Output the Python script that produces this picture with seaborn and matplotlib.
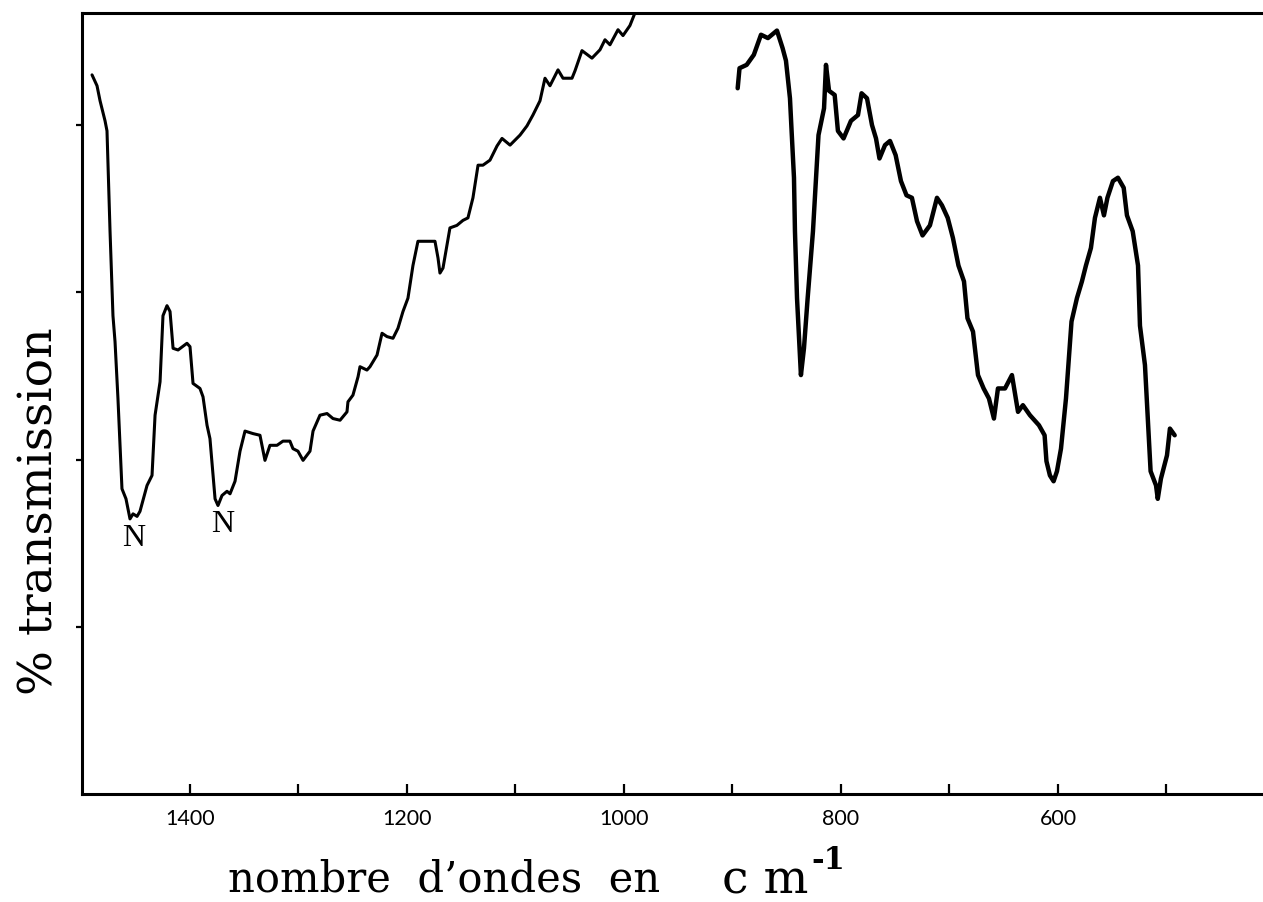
import matplotlib
matplotlib.use("Agg")
import matplotlib.pyplot as plt
import numpy as np
import pandas as pd
import seaborn as sns

# Infrared transmission spectrum, recorded in two runs (wavenumber in cm-1, % transmission)
wn_high = [1490.3, 1485.7, 1482.9, 1478.3, 1476.5, 1473.7, 1471.0, 1469.1, 1466.4, 1462.7,
           1459.0, 1455.3, 1452.5, 1448.8, 1446.1, 1439.6, 1435.0, 1432.2, 1427.6, 1424.9,
           1421.2, 1418.4, 1415.6, 1411.0, 1402.8, 1400.0, 1397.2, 1390.8, 1388.0, 1384.3,
           1381.6, 1376.9, 1374.2, 1370.5, 1365.9, 1363.1, 1358.5, 1353.9, 1349.3, 1341.9,
           1335.5, 1330.9, 1326.3, 1319.8, 1314.3, 1307.9, 1305.1, 1300.5, 1295.8, 1289.4,
           1286.6, 1280.2, 1273.7, 1268.2, 1261.7, 1255.3, 1254.4, 1249.8, 1245.1, 1243.3,
           1236.9, 1234.1, 1227.6, 1223.0, 1218.4, 1212.9, 1208.3, 1203.7, 1199.1, 1194.5,
           1189.9, 1181.5, 1174.2, 1171.4, 1169.6, 1166.8, 1160.4, 1154.0, 1148.4, 1143.8,
           1139.2, 1134.5, 1130.0, 1123.5, 1117.0, 1112.4, 1105.0, 1095.8, 1089.4, 1083.9,
           1077.4, 1072.8, 1068.2, 1060.8, 1056.2, 1047.9, 1045.1, 1038.7, 1029.5, 1022.1,
           1017.5, 1012.9, 1005.5, 1000.9, 994.5, 989.9]
t_high = [86.0, 84.7, 82.9, 80.5, 79.3, 67.3, 57.2, 54.1, 47.3, 36.5,
          35.3, 32.9, 33.5, 33.2, 33.8, 36.9, 38.1, 45.3, 49.3, 57.2,
          58.4, 57.7, 53.3, 53.1, 53.9, 53.5, 49.1, 48.5, 47.5, 44.1,
          42.5, 35.3, 34.5, 35.7, 36.2, 35.9, 37.4, 41.0, 43.4, 43.1,
          42.9, 39.9, 41.7, 41.7, 42.2, 42.2, 41.3, 41.0, 39.9, 41.0,
          43.4, 45.3, 45.5, 44.9, 44.7, 45.7, 46.9, 47.7, 49.9, 51.1,
          50.7, 51.1, 52.5, 55.1, 54.7, 54.5, 55.7, 57.7, 59.3, 63.2,
          66.1, 66.1, 66.1, 64.1, 62.3, 62.9, 67.7, 68.0, 68.6, 68.9,
          71.3, 75.2, 75.2, 75.8, 77.5, 78.4, 77.6, 78.8, 79.9, 81.2,
          82.9, 85.6, 84.7, 86.6, 85.6, 85.6, 86.5, 88.9, 88.0, 89.0,
          90.2, 89.6, 91.4, 90.7, 91.9, 93.4]

wn_low = [895.2, 893.5, 886.9, 880.3, 873.7, 867.3, 859.0, 853.8, 850.7, 847.0,
          845.5, 843.3, 842.4, 840.5, 836.9, 834.1, 830.7, 825.8, 820.7, 815.6,
          813.8, 811.0, 805.8, 802.8, 797.6, 790.8, 784.3, 781.0, 776.0, 771.4,
          767.7, 764.5, 759.4, 754.8, 749.6, 744.7, 739.6, 734.6, 729.9, 724.8,
          718.0, 711.5, 706.9, 701.6, 696.8, 691.7, 686.6, 683.4, 678.3, 673.7,
          668.5, 663.6, 659.0, 655.3, 648.8, 642.4, 636.8, 632.3, 625.8, 617.5,
          612.3, 610.6, 607.4, 604.0, 600.9, 597.2, 592.6, 587.5, 582.5, 577.9,
          574.2, 569.6, 565.9, 561.3, 557.6, 554.4, 549.3, 544.7, 539.4, 536.4,
          531.1, 526.2, 524.4, 519.8, 514.6, 509.6, 508.0, 505.1, 499.5, 496.8,
          492.4]
t_low = [84.4, 86.8, 87.2, 88.4, 90.8, 90.4, 91.3, 89.2, 87.7, 83.2,
         79.3, 73.7, 67.3, 59.3, 50.1, 53.3, 59.3, 67.3, 78.8, 82.0,
         87.2, 84.1, 83.6, 79.3, 78.4, 80.5, 81.2, 83.8, 83.2, 80.0,
         78.4, 76.0, 77.6, 78.1, 76.4, 73.3, 71.6, 71.3, 68.5, 66.8,
         68.0, 71.3, 70.4, 68.9, 66.5, 63.2, 61.3, 56.9, 55.3, 50.1,
         48.5, 47.3, 44.9, 48.5, 48.5, 50.1, 45.7, 46.5, 45.3, 44.1,
         42.9, 39.8, 38.1, 37.4, 38.6, 41.3, 47.3, 56.5, 59.3, 61.3,
         63.2, 65.3, 68.9, 71.3, 69.2, 71.3, 73.3, 73.7, 72.5, 69.2,
         67.3, 63.2, 56.0, 51.3, 38.6, 36.9, 35.3, 37.7, 40.5, 43.7,
         42.9]

major_ticks = [1400, 1200, 1000, 800, 600]
minor_ticks = [1300, 1100, 900, 700, 500]
y_ticks = [20, 40, 60, 80]
band_labels = ["N", "N"]

sns.set_style("ticks")
plt.rcParams["font.family"] = ["DejaVu Serif", "Liberation Serif"]
plt.rcParams["text.color"] = "black"
plt.rcParams["xtick.color"] = "black"
plt.rcParams["ytick.color"] = "black"

W, H = 1263, 903
fig = plt.figure(figsize=(W / 100, H / 100), dpi=100)
fig.patch.set_facecolor("white")
ax = fig.add_axes([81.5 / W, (H - 795) / H, (W - 81.5) / W, (795 - 14) / H])

high = pd.DataFrame({"wn": wn_high, "T": t_high})
low = pd.DataFrame({"wn": wn_low, "T": t_low})
sns.lineplot(data=high, x="wn", y="T", ax=ax, color="black", linewidth=2.2,
             sort=False, estimator=None)
sns.lineplot(data=low, x="wn", y="T", ax=ax, color="black", linewidth=3.2,
             sort=False, estimator=None)

ax.set_xlim(1500, 411)
ax.set_ylim(0, 93.4)
ax.set_xlabel("")
ax.set_ylabel("")

ax.set_xticks(major_ticks)
ax.set_xticklabels([str(t) for t in major_ticks], fontfamily="Lato", fontsize=15.5,
                   color="black")
ax.set_xticks(minor_ticks, minor=True)
ax.set_yticks(y_ticks)
ax.set_yticklabels([])

ax.tick_params(axis="x", which="both", direction="in", length=7, width=1.6,
               pad=10, color="black")
ax.tick_params(axis="y", which="both", direction="out", length=4, width=1.6,
               color="black")

for side in ["left", "top", "bottom"]:
    ax.spines[side].set_linewidth(2.2)
    ax.spines[side].set_color("black")
ax.spines["right"].set_visible(False)


def px(x, y):
    return x / W, 1 - y / H


# Band markers under the two absorption minima
fig.text(*px(134, 539), band_labels[0], fontsize=23, ha="center", va="center",
         family="Liberation Serif")
fig.text(*px(223, 525), band_labels[1], fontsize=23, ha="center", va="center",
         family="Liberation Serif")

# Axis titles
fig.text(*px(40, 511), "% transmission", rotation=90, fontsize=34,
         ha="center", va="center")
fig.text(*px(228, 892), "nombre  d\u2019ondes  en", fontsize=30, ha="left",
         va="baseline")
fig.text(*px(722, 894), "c m", fontsize=34, ha="left", va="baseline")
fig.text(*px(811, 869), "-1", fontsize=22, ha="left", va="baseline", weight="bold")

fig.savefig("out.png", dpi=100)
